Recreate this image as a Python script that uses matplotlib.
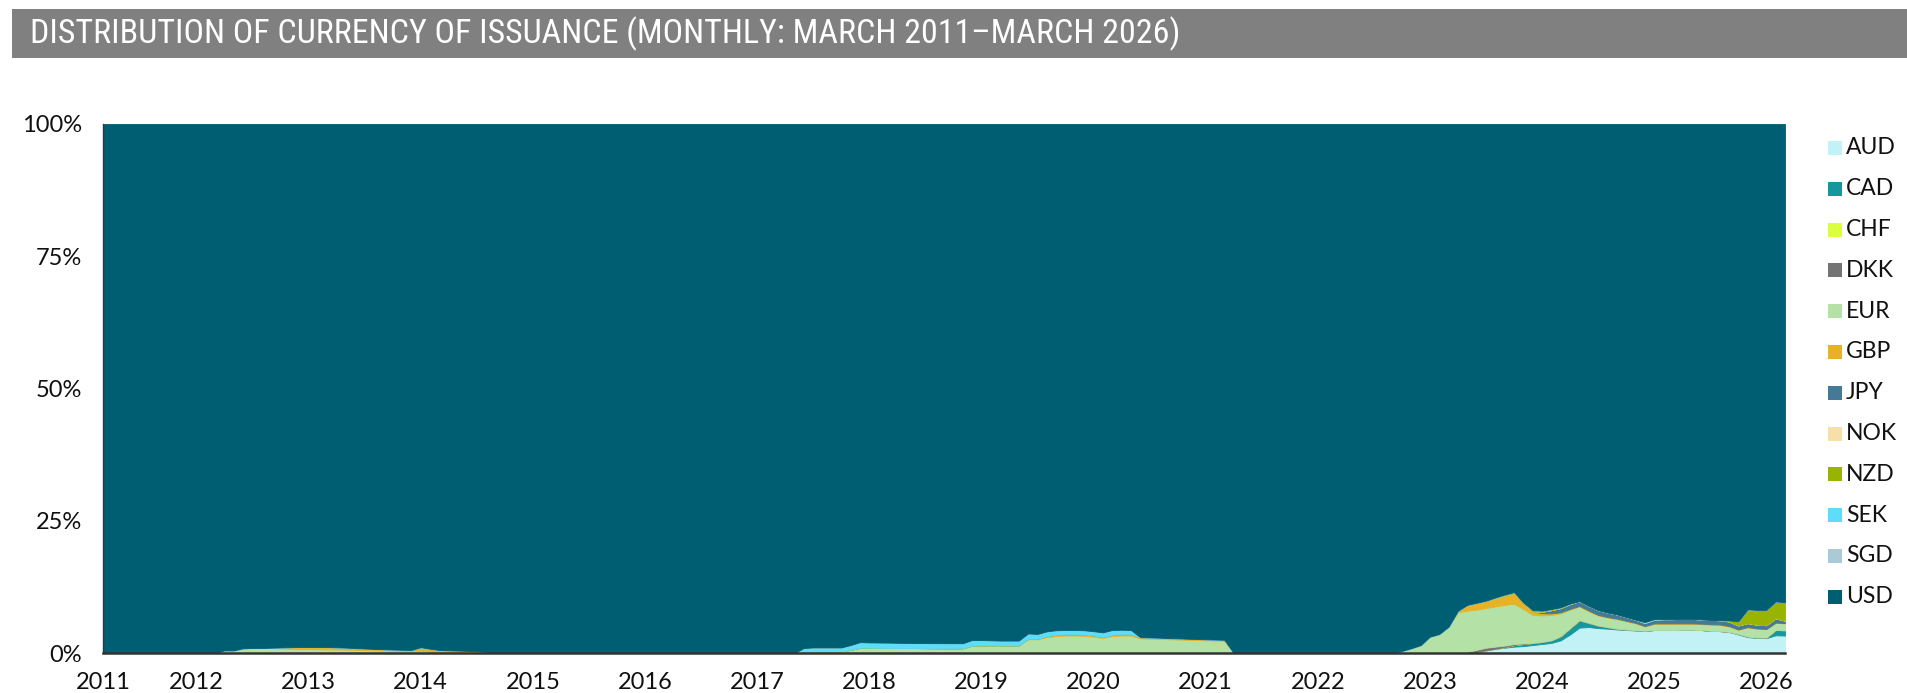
import matplotlib
matplotlib.use("Agg")

import numpy as np
import pandas as pd
import matplotlib.pyplot as plt
from matplotlib import font_manager
from matplotlib.patches import Rectangle

# monthly observations, March 2011 - March 2026
months = pd.date_range("2011-03-01", "2026-03-01", freq="MS")

currencies = ["AUD", "CAD", "CHF", "DKK", "EUR", "GBP", "JPY", "NOK", "NZD", "SEK", "SGD", "USD"]
colors = ["#c2f1f6", "#16979f", "#dcff3c", "#747474", "#b3e1a6", "#e8b226",
          "#457a96", "#f5e0a8", "#98b400", "#5fdcf9", "#aacad8", "#005e73"]

# share of issuance in %, keyed by the first month of each non-zero run
aud = {"2022-09": [0, 0, 0, 0, 0, 0, 0, 0, 0, 0.2, 0.5, 0.8, 1.0, 1.2, 1.3, 1.5, 1.7, 1.9,
                   2.4, 3.5, 4.8, 4.9, 4.7, 4.6, 4.45, 4.35, 4.25, 4.15, 4.35, 4.35, 4.35,
                   4.4, 4.4, 4.35, 4.2, 4.15, 4.0, 3.5, 3.0, 2.85, 2.8, 3.35, 3.3]}
cad = {"2023-09": [0.1, 0.3, 0.4, 0.4, 0.4, 0.5, 0.8, 1.2, 1.4, 0.8, 0.5, 0.3, 0.15, 0.1,
                   0.05, 0.05],
       "2025-10": [0.1, 0.1, 0.1, 0.1, 1.0, 1.0]}
chf = {}
dkk = {"2023-04": [0.1, 0.2, 0.4, 0.5, 0.4, 0.3, 0.2, 0.1]}
eur = {"2012-03": [0, 0.5, 0.5, 0.9, 0.95, 0.95, 0.95, 0.85, 0.8, 0.75, 0.72, 0.7, 0.69,
                   0.66, 0.62, 0.58, 0.55, 0.5, 0.47, 0.44, 0.41, 0.38, 0.4, 0.25, 0.12,
                   0.1, 0.08, 0.07, 0.06, 0.04, 0],
       "2017-05": [0, 0.2, 0.25, 0.25, 0.25, 0.3, 0.6, 1.0, 1.0, 0.98, 0.96, 0.95, 0.94,
                   0.93, 0.92, 0.91, 0.9, 0.9, 0.9, 1.4, 1.45, 1.45, 1.45, 1.45, 1.45,
                   2.6, 2.6, 3.0, 3.2, 3.3, 3.3, 3.25, 3.1, 2.85, 3.2, 3.3, 3.3, 2.75,
                   2.7, 2.65, 2.6, 2.55, 2.5, 2.45, 2.4, 2.35, 2.3, 0],
       "2022-09": [0, 0.4, 0.9, 1.5, 3.1, 3.6, 5.0, 7.6, 7.8, 7.6, 7.5, 7.6, 7.7, 7.6,
                   6.5, 5.3, 5.0, 4.8, 4.3, 3.5, 2.6, 2.2, 1.9, 1.8, 1.8, 1.55, 1.3, 0.8,
                   1.15, 1.15, 1.15, 1.1, 1.1, 1.1, 1.15, 1.15, 1.0, 0.8, 1.75, 1.65,
                   1.6, 1.35, 1.3]}
gbp = {"2012-03": [0, 0, 0, 0, 0, 0, 0.05, 0.2, 0.3, 0.4, 0.42, 0.44, 0.44, 0.42, 0.4,
                   0.35, 0.3, 0.27, 0.25, 0.22, 0.2, 0.2, 0.7, 0.55, 0.45, 0.4, 0.37,
                   0.33, 0.27, 0.18, 0],
       "2019-06": [0.1, 0.1, 0.2, 0.25, 0.25, 0.25, 0.25, 0.22, 0.2, 0.25, 0.25, 0.25,
                   0.25, 0.25, 0.25, 0.22, 0.22, 0.2, 0.2, 0.2, 0.2, 0.2, 0],
       "2023-04": [0.3, 1.1, 1.3, 1.4, 1.6, 1.8, 2.0, 1.1, 0.7, 0.4, 0.3, 0.2, 0.15,
                   0.1, 0.1, 0.1, 0.1, 0.1, 0.1, 0.1, 0.1, 0.1, 0.1, 0.1, 0.1, 0.1, 0.1,
                   0.1, 0.1, 0.1, 0.05, 0.05, 0.05, 0.05, 0.05, 0.05]}
jpy = {"2024-01": [0.3, 0.6, 0.8, 0.9, 0.9, 0.9, 0.9, 0.85, 0.8, 0.7, 0.6, 0.6, 0.7,
                   0.8, 0.8, 0.85, 0.85, 0.8, 0.8, 0.8, 0.85, 0.75, 0.75, 0.7, 0.7, 0.8,
                   0.45]}
nok = {}
nzd = {"2023-08": [0.1, 0.15, 0.2, 0.15, 0.2, 0.2, 0.2, 0.15, 0.1],
       "2025-09": [0.2, 0.8, 2.6, 2.8, 2.9, 3.2, 3.5]}
sek = {"2017-05": [0, 0.75, 0.8, 0.8, 0.8, 0.75, 0.9, 1.05, 1.0, 1.0, 1.0, 0.98, 0.97,
                   0.96, 0.95, 0.95, 0.95, 0.95, 0.95, 1.05, 1.0, 0.95, 0.9, 0.9, 0.9,
                   1.0, 0.9, 0.9, 0.85, 0.8, 0.8, 0.8, 0.8, 0.85, 0.9, 0.85, 0.8, 0]}
sgd = {"2024-12": [0.15, 0.1]}

x_labels = [str(y) for y in range(2011, 2027)]
y_ticks = [0, 25, 50, 75, 100]
title = "DISTRIBUTION OF CURRENCY OF ISSUANCE (MONTHLY: MARCH 2011\u2013MARCH 2026)"


def monthly(segments):
    s = pd.Series(0.0, index=months)
    for start, vals in segments.items():
        idx = pd.date_range(start, periods=len(vals), freq="MS")
        s[idx] = vals
    return s.values


def narrow_font():
    # the original title is set in a condensed face; use one if we have it
    wanted = [("Liberation Sans Narrow", None), ("Roboto Condensed", None),
              ("Noto Sans", "condensed"), ("Open Sans", "condensed"),
              ("DejaVu Sans", "condensed")]
    for name, stretch in wanted:
        for f in font_manager.fontManager.ttflist:
            if f.name == name and (stretch is None or f.stretch == stretch):
                return name, (stretch or "normal")
    return "Lato", "normal"


others = [monthly(d) for d in [aud, cad, chf, dkk, eur, gbp, jpy, nok, nzd, sek, sgd]]
usd = 100 - np.sum(others, axis=0)
series = others + [usd]

x = months.year + (months.month - 1) / 12

plt.rcParams["font.family"] = ["Lato", "DejaVu Sans"]

W, H = 1908, 693
fig = plt.figure(figsize=(W / 100, H / 100), dpi=100)
ax = fig.add_axes([103 / W, 1 - 653 / H, (1785 - 103) / W, (653 - 124) / H])

polys = ax.stackplot(x, *series, colors=colors, labels=currencies)
for p, c in zip(polys, colors):
    p.set_edgecolor(c)
    p.set_linewidth(0.6)

ax.set_xlim(x[0], x[-1])
ax.set_ylim(0, 100)

ax.set_xticks([x[0]] + list(range(2012, 2027)))
ax.set_xticklabels(x_labels)
ax.set_yticks(y_ticks)
ax.set_yticklabels([f"{v}%" for v in y_ticks])
ax.tick_params(axis="x", length=0, pad=14, labelsize=17, colors="#111111")
ax.tick_params(axis="y", length=0, pad=15, labelsize=17, colors="#111111")

for side in ["top", "right"]:
    ax.spines[side].set_visible(False)
ax.spines["bottom"].set_color("#333333")
ax.spines["bottom"].set_linewidth(1.8)
ax.spines["left"].set_color("#2a3a40")
ax.spines["left"].set_linewidth(1.0)

# title bar
fig.patches.append(Rectangle((12 / W, 1 - 58 / H), 1 - 12 / W, 49 / H,
                             transform=fig.transFigure, facecolor="#808080",
                             edgecolor="none"))
fam, stretch = narrow_font()
ttl = fig.text(30 / W, 1 - 34 / H, title, color="white", fontsize=24, va="center",
               ha="left", family=[fam, "DejaVu Sans"], fontstretch=stretch)
# fit the title to the width it has in the original (~1153 px)
renderer = fig.canvas.get_renderer()
w = ttl.get_window_extent(renderer).width
ttl.set_fontsize(min(26, 24 * 1153 / w))

# legend, one row per currency
for k, (name, c) in enumerate(zip(currencies, colors)):
    yc = 148 + k * 40.8
    fig.patches.append(Rectangle((1828 / W, 1 - (yc + 7) / H), 14 / W, 14 / H,
                                 transform=fig.transFigure, facecolor=c,
                                 edgecolor="none"))
    fig.text(1846 / W, 1 - yc / H, name, fontsize=16.5, va="center", ha="left",
             color="#111111")

fig.savefig("out.png", dpi=100)
